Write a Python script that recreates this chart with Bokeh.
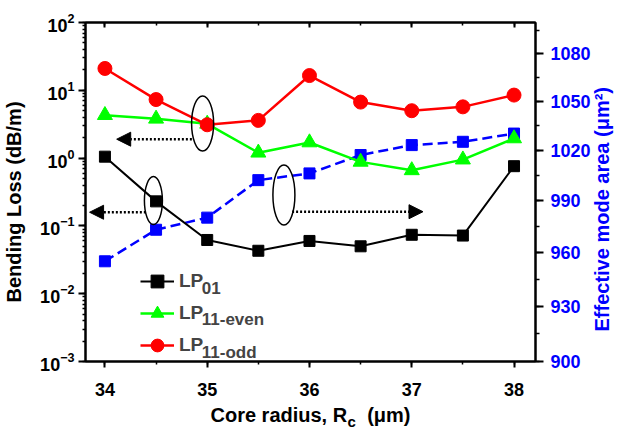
import math
from bokeh.plotting import figure
from bokeh.models import (Range1d, LinearAxis, LogTicker, SingleIntervalTicker, FixedTicker,
                          Legend, LegendItem, Label, Arrow, NormalHead)
from bokeh.embed import file_html
from bokeh.resources import INLINE

# ---------------- data ----------------
core_radius = [34, 34.5, 35, 35.5, 36, 36.5, 37, 37.5, 38]
loss_lp01 = [1.05, 0.23, 0.062, 0.043, 0.060, 0.050, 0.074, 0.072, 0.76]
loss_lp11_even = [4.3, 3.8, 3.2, 1.2, 1.7, 0.88, 0.66, 0.95, 1.95]
loss_lp11_odd = [21.0, 7.3, 3.1, 3.6, 16.5, 6.7, 5.0, 5.7, 8.5]
mode_area = [955, 973, 980, 1002, 1006, 1017, 1023, 1025, 1030]

legend_names = ["LP", "LP", "LP"]
legend_subs = ["01", "11-even", "11-odd"]
x_label_main = "Core radius, R\u2003(\u03bcm)"
x_label_sub = "c"
y_label_left = "Bending Loss (dB/m)\u2003"
y_label_right = "\u2003\u2002Effective mode area (\u03bcm\u00b2)"

# annotation marks (ellipses around curves, arrows to their axes)
ellipse_x = [34.955, 34.474, 35.75]
ellipse_y = [3.24, 0.236, 0.286]
ellipse_w = [22, 18, 22]
ellipse_h = [55, 48, 60]
arrow_x0 = [34.85, 34.40, 35.83]
arrow_x1 = [34.115, 33.85, 37.11]
arrow_y = [1.90, 0.159, 0.162]
# legend subscript anchors (data units)
sub_x = 34.947
sub_y = [0.0121, 0.00415, 0.00137]
x_sub_pos = 36.413

FONT = "Liberation Sans"
BLUE = "#0000FF"
RED = "#FF0000"
GREEN = "#00FF00"

p = figure(width=626, height=432, output_backend="svg", toolbar_location=None,
           y_axis_type="log", x_range=Range1d(33.81, 38.21),
           y_range=Range1d(1e-3, 1e2), min_border_left=83, min_border_right=85,
           min_border_top=22, min_border_bottom=70)
p.extra_y_ranges = {"area": Range1d(900, 1100)}
p.xgrid.visible = False
p.ygrid.visible = False
p.outline_line_color = "black"
p.outline_line_width = 2
p.background_fill_color = "white"
p.border_fill_color = "white"

# ---------------- axes ----------------
xax = p.xaxis[0]
xax.ticker = SingleIntervalTicker(interval=1, num_minor_ticks=2)
xax.axis_label = x_label_main
yax = p.yaxis[0]
yax.ticker = LogTicker(num_minor_ticks=10)
yax.axis_label = y_label_left

for ax in (xax, yax):
    ax.axis_line_width = 2
    ax.major_tick_line_width = 2
    ax.minor_tick_line_width = 1.5
    ax.major_tick_in = 0
    ax.minor_tick_in = 0
    ax.major_label_text_font = FONT
    ax.major_label_text_font_style = "bold"
    ax.major_label_text_font_size = "18px"
    ax.major_label_text_color = "black"
    ax.axis_label_text_font = FONT
    ax.axis_label_text_font_style = "bold"
    ax.axis_label_text_font_size = "20px"
    ax.axis_label_text_color = "black"

xax.major_tick_out = 6
xax.minor_tick_out = 3
xax.major_label_standoff = 15
xax.axis_label_standoff = 5
yax.major_tick_out = 7
yax.minor_tick_out = 3
yax.major_label_standoff = 4
yax.axis_label_standoff = 12

# subscript of the x axis title, drawn as a bare tick label
xsub = LinearAxis(ticker=FixedTicker(ticks=[x_sub_pos], minor_ticks=[]),
                  major_label_overrides={x_sub_pos: x_label_sub},
                  axis_line_color=None, major_tick_line_color=None,
                  minor_tick_line_color=None, major_tick_in=0, major_tick_out=0,
                  minor_tick_in=0, minor_tick_out=0, major_label_standoff=-16,
                  major_label_text_font=FONT, major_label_text_font_style="bold",
                  major_label_text_font_size="15px", major_label_text_color="black")
p.add_layout(xsub, "below")

top = LinearAxis(ticker=SingleIntervalTicker(interval=1, num_minor_ticks=2),
                 major_label_text_font_size="0px", major_label_text_alpha=0,
                 axis_line_width=2, major_tick_in=5, major_tick_out=0,
                 minor_tick_in=3, minor_tick_out=0, major_tick_line_width=2,
                 minor_tick_line_width=1.5)
p.add_layout(top, "above")

rax = LinearAxis(y_range_name="area",
                 ticker=SingleIntervalTicker(interval=30, num_minor_ticks=2),
                 axis_label=y_label_right)
rax.axis_line_width = 2
rax.major_tick_line_width = 2
rax.minor_tick_line_width = 1.5
rax.major_tick_in = 0
rax.minor_tick_in = 0
rax.major_tick_out = 8
rax.minor_tick_out = 4
rax.major_label_standoff = 7
rax.axis_label_standoff = 8
rax.major_label_text_font = FONT
rax.major_label_text_font_style = "bold"
rax.major_label_text_font_size = "18px"
rax.major_label_text_color = BLUE
rax.axis_label_text_font = FONT
rax.axis_label_text_font_style = "bold"
rax.axis_label_text_font_size = "20px"
rax.axis_label_text_color = BLUE
rax.axis_label_orientation = math.pi / 2
if "axis_label_align" in rax.properties():
    rax.axis_label_align = "start"
p.add_layout(rax, "right")

# ---------------- series ----------------
r_area_l = p.line(core_radius, mode_area, y_range_name="area", line_color=BLUE,
                  line_width=2.5, line_dash="10 5")
r_area_m = p.scatter(core_radius, mode_area, y_range_name="area", marker="square",
                     size=11, fill_color=BLUE, line_color=BLUE)

r01_l = p.line(core_radius, loss_lp01, line_color="black", line_width=2)
r01_m = p.scatter(core_radius, loss_lp01, marker="square", size=11,
                  fill_color="black", line_color="black")
re_l = p.line(core_radius, loss_lp11_even, line_color=GREEN, line_width=2.5)
re_m = p.scatter(core_radius, loss_lp11_even, marker="triangle", size=15,
                 fill_color=GREEN, line_color=GREEN)
ro_l = p.line(core_radius, loss_lp11_odd, line_color=RED, line_width=2.5)
ro_m = p.scatter(core_radius, loss_lp11_odd, marker="circle", size=14,
                 fill_color=RED, line_color=RED)

# ---------------- ellipses & arrows ----------------
p.ellipse(x=ellipse_x, y=ellipse_y, width=ellipse_w, height=ellipse_h,
          width_units="screen", height_units="screen", fill_color=None,
          line_color="black", line_width=1.5)
for xs, xe, ya in zip(arrow_x0, arrow_x1, arrow_y):
    p.add_layout(Arrow(end=NormalHead(size=14, fill_color="black", line_color="black"),
                       x_start=xs, y_start=ya, x_end=xe, y_end=ya,
                       line_color="black", line_width=2.5, line_dash="2 2"))

# ---------------- legend ----------------
legend = Legend(items=[LegendItem(label=legend_names[0], renderers=[r01_l, r01_m]),
                       LegendItem(label=legend_names[1], renderers=[re_l, re_m]),
                       LegendItem(label=legend_names[2], renderers=[ro_l, ro_m])],
                location=(55, 0), padding=0, margin=0, spacing=0,
                glyph_width=34, glyph_height=32, label_height=32, label_standoff=5,
                border_line_color=None, background_fill_alpha=0,
                label_text_font=FONT, label_text_font_style="bold",
                label_text_font_size="19px")
p.add_layout(legend)

for sub, sy in zip(legend_subs, sub_y):
    p.add_layout(Label(x=sub_x, y=sy, text=sub, text_font=FONT, text_font_style="bold",
                       text_font_size="17px", text_baseline="middle"))

open("out.html", "w").write(file_html(p, INLINE))
